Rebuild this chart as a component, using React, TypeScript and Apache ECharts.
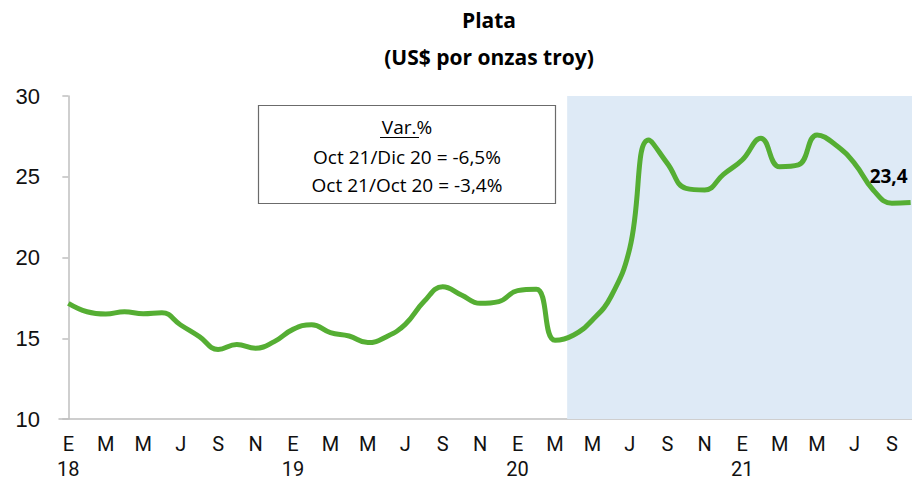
import React, { useEffect, useRef } from "react";
import * as echarts from "echarts";

const categories = [
  "Ene 18", "Feb 18", "Mar 18", "Abr 18", "May 18", "Jun 18", "Jul 18", "Ago 18", "Sep 18", "Oct 18", "Nov 18", "Dic 18",
  "Ene 19", "Feb 19", "Mar 19", "Abr 19", "May 19", "Jun 19", "Jul 19", "Ago 19", "Sep 19", "Oct 19", "Nov 19", "Dic 19",
  "Ene 20", "Feb 20", "Mar 20", "Abr 20", "May 20", "Jun 20", "Jul 20", "Ago 20", "Sep 20", "Oct 20", "Nov 20", "Dic 20",
  "Ene 21", "Feb 21", "Mar 21", "Abr 21", "May 21", "Jun 21", "Jul 21", "Ago 21", "Sep 21", "Oct 21",
];

const tickLabels = [
  "E\n18", "F", "M", "A", "M", "J", "J", "A", "S", "O", "N", "D",
  "E\n19", "F", "M", "A", "M", "J", "J", "A", "S", "O", "N", "D",
  "E\n20", "F", "M", "A", "M", "J", "J", "A", "S", "O", "N", "D",
  "E\n21", "F", "M", "A", "M", "J", "J", "A", "S", "O",
];

const silverPrices = [
  17.16, 16.64, 16.5, 16.64, 16.52, 16.58, 15.82, 15.1, 14.31, 14.62, 14.38, 14.79,
  15.55, 15.84, 15.35, 15.14, 14.73, 15.1, 15.86, 17.27, 18.19, 17.68, 17.16, 17.27,
  17.95, 18.03, 14.87, 15.2, 16.13, 17.6, 20.6, 27.27, 25.83, 24.28, 24.18, 25.15,
  26.04, 27.38, 25.62, 25.73, 27.59, 26.97, 25.83, 24.18, 23.36, 23.4,
];

const yTicks = { min: 10, max: 30, interval: 5 };
// shaded period (in month-index units on a hidden helper axis)
const shadeRange = [26.65, 45.5];
const titleLines = ["Plata", "(US$ por onzas troy)"];
const boxLines = ["Var.%", "Oct 21/Dic 20 = -6,5%", "Oct 21/Oct 20 = -3,4%"];
const lastLabel = "23,4";

export default function App() {
  const ref = useRef<HTMLDivElement>(null);
  useEffect(() => {
    if (!ref.current) return;
    const chart = echarts.init(ref.current, undefined, { renderer: "svg" });
    const lastIdx = silverPrices.length - 1;
    const seriesData = silverPrices.map((v, i) =>
      i === lastIdx
        ? {
            value: v,
            symbol: "circle",
            symbolSize: 1,
            itemStyle: { color: "rgba(0,0,0,0)" },
            label: {
              show: true,
              position: "top",
              offset: [-22, -12],
              formatter: lastLabel,
              fontFamily: "Open Sans",
              fontWeight: "bold",
              fontSize: 19,
              color: "#000",
            },
          }
        : { value: v, symbol: "none" }
    );
    const textStyle = (text: string, size: number, bold = false) => ({
      text,
      fontFamily: "Open Sans",
      fontWeight: bold ? "bold" : "normal",
      fontSize: size,
      fill: "#000",
      align: "center",
      verticalAlign: "middle",
    });
    chart.setOption({
      animation: false,
      backgroundColor: "#fff",
      grid: { left: 59, right: 0, top: 96, bottom: 63, containLabel: false, outerBoundsMode: "none" },
      xAxis: [
        {
          type: "category",
          data: categories,
          boundaryGap: true,
          axisLine: { lineStyle: { color: "#BFBFBF", width: 1.5 } },
          axisTick: { show: false },
          axisLabel: {
            interval: 1,
            formatter: (_v: string, idx: number) => tickLabels[idx],
            fontFamily: "Roboto",
            fontSize: 20,
            lineHeight: 25,
            color: "#111",
            margin: 12,
          },
          splitLine: { show: false },
        },
        {
          type: "value",
          min: -0.5,
          max: 45.5,
          show: false,
          splitLine: { show: false },
        },
      ],
      yAxis: {
        type: "value",
        min: yTicks.min,
        max: yTicks.max,
        interval: yTicks.interval,
        axisLine: { show: true, lineStyle: { color: "#BFBFBF", width: 1.5 } },
        axisTick: { show: true, length: 6, lineStyle: { color: "#BFBFBF", width: 1.5 } },
        axisLabel: {
          fontFamily: "Liberation Sans",
          fontSize: 22,
          color: "#111",
          margin: 19,
        },
        splitLine: { show: false },
      },
      series: [
        {
          type: "line",
          xAxisIndex: 1,
          data: [],
          silent: true,
          z: 1,
          markArea: {
            silent: true,
            itemStyle: { color: "#DEEAF6" },
            data: [[{ xAxis: shadeRange[0] }, { xAxis: shadeRange[1] }]],
          },
        },
        {
          type: "line",
          data: seriesData,
          smooth: 0.45,
          showSymbol: true,
          showAllSymbol: true,
          lineStyle: { color: "#55AE33", width: 5 },
          itemStyle: { color: "#55AE33" },
          clip: false,
          z: 3,
        },
      ],
      graphic: [
        { type: "text", x: 489, y: 20, style: textStyle(titleLines[0], 21, true) },
        { type: "text", x: 489, y: 57, style: textStyle(titleLines[1], 21, true) },
        {
          type: "rect",
          shape: { x: 258.5, y: 105.5, width: 297, height: 98 },
          style: { fill: "#fff", stroke: "#6b6b6b", lineWidth: 1.2 },
          z: 10,
        },
        { type: "text", x: 407, y: 127, z: 11, style: textStyle(boxLines[0], 19) },
        {
          type: "line",
          z: 11,
          shape: { x1: 380, y1: 137.5, x2: 419, y2: 137.5 },
          style: { stroke: "#000", lineWidth: 1.2 },
        },
        { type: "text", x: 407, y: 157, z: 11, style: textStyle(boxLines[1], 19) },
        { type: "text", x: 407, y: 185, z: 11, style: textStyle(boxLines[2], 19) },
      ],
    });
    return () => chart.dispose();
  }, []);
  return (
    <div style={{ position: "absolute", left: 0, top: 0, width: 912, height: 482, overflow: "hidden" }}>
      <div ref={ref} style={{ width: 920, height: 482 }} />
    </div>
  );
}
